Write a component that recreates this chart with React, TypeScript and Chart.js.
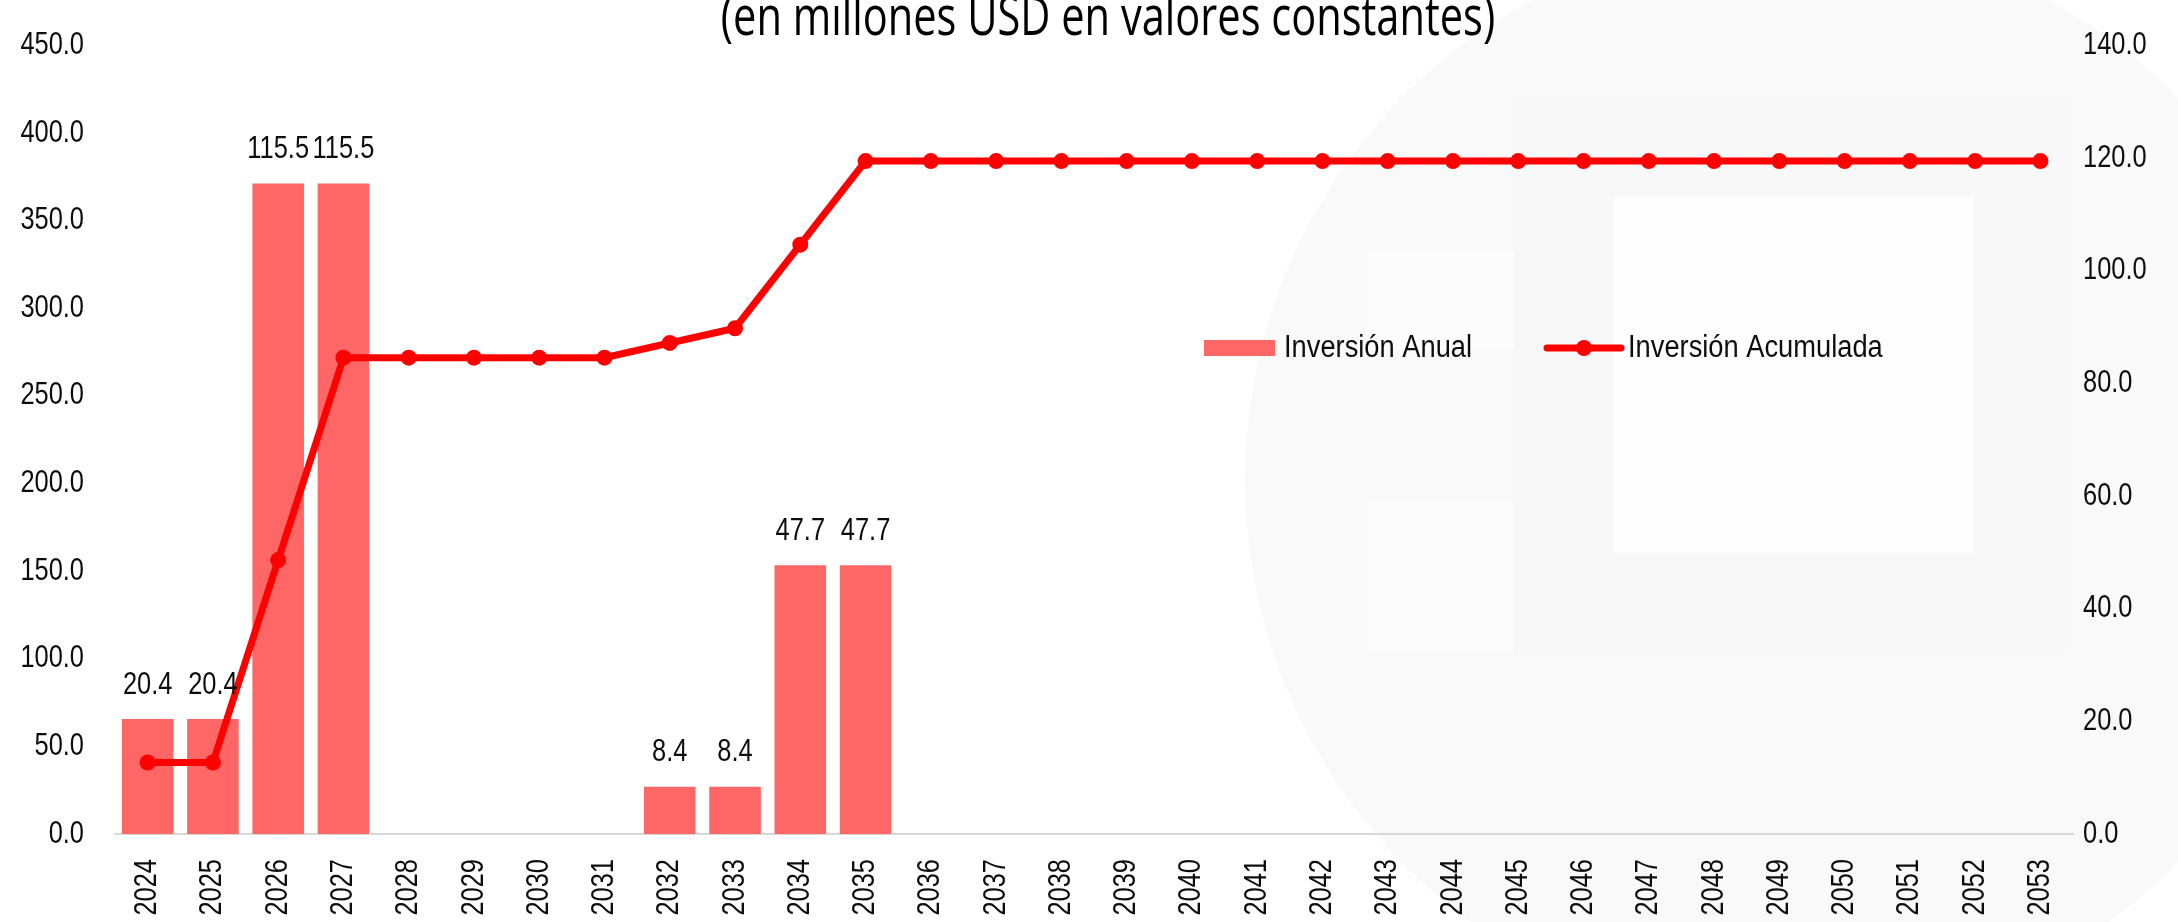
import { useEffect, useRef } from 'react';
import { Chart, registerables } from 'chart.js';

Chart.register(...registerables);

const years = [
  '2024', '2025', '2026', '2027', '2028', '2029', '2030', '2031', '2032', '2033',
  '2034', '2035', '2036', '2037', '2038', '2039', '2040', '2041', '2042', '2043',
  '2044', '2045', '2046', '2047', '2048', '2049', '2050', '2051', '2052', '2053',
];

const annualInvestment = [
  20.4, 20.4, 115.5, 115.5, 0, 0, 0, 0, 8.4, 8.4,
  47.7, 47.7, 0, 0, 0, 0, 0, 0, 0, 0,
  0, 0, 0, 0, 0, 0, 0, 0, 0, 0,
];

const cumulativeInvestment = [
  40.8, 40.8, 156.3, 271.8, 271.8, 271.8, 271.8, 271.8, 280.2, 288.6,
  336.3, 384.0, 384.0, 384.0, 384.0, 384.0, 384.0, 384.0, 384.0, 384.0,
  384.0, 384.0, 384.0, 384.0, 384.0, 384.0, 384.0, 384.0, 384.0, 384.0,
];

const leftAxisTicks = [0, 50, 100, 150, 200, 250, 300, 350, 400, 450];
const rightAxisTicks = [0, 20, 40, 60, 80, 100, 120, 140];

const seriesNames = ['Inversión Anual', 'Inversión Acumulada'];
const titleText = '(en millones USD en valores constantes)';

const FONT = '"Liberation Sans", Arial, sans-serif';
const TEXT_SIZE = 31;
const NARROW = 0.82;
const TEXT_COLOR = '#0D0D0D';
const BAR_COLOR = '#FF6666';
const LINE_COLOR = '#FF0000';

const W = 2178;
const H = 922;

function narrowText(ctx: any, text: string, x: number, y: number, align: string, rotate = 0, squeeze = NARROW) {
  ctx.save();
  ctx.translate(x, y);
  if (rotate) ctx.rotate(rotate);
  ctx.scale(squeeze, 1);
  ctx.textAlign = align;
  ctx.fillText(text, 0, 0);
  ctx.restore();
}

const backgroundPlugin = {
  id: 'watermarkBg',
  beforeDraw(chart: any) {
    const ctx = chart.ctx;
    ctx.save();
    ctx.fillStyle = '#FFFFFF';
    ctx.fillRect(0, 0, W, H);
    ctx.fillStyle = '#F9F9F9';
    ctx.beginPath();
    ctx.arc(1790, 480, 545, 0, Math.PI * 2);
    ctx.fill();
    ctx.fillStyle = '#F8F8F8';
    ctx.fillRect(1511, 94, 560, 560);
    ctx.fillStyle = '#FDFDFD';
    ctx.fillRect(1614, 197, 360, 356);
    ctx.fillStyle = '#FCFCFC';
    ctx.fillRect(1368, 250, 146, 100);
    ctx.fillRect(1368, 503, 146, 150);
    ctx.restore();
  },
};

const overlayPlugin = {
  id: 'overlay',
  afterDatasetsDraw(chart: any) {
    const ctx = chart.ctx;
    const meta = chart.getDatasetMeta(0);
    ctx.save();
    ctx.font = `${TEXT_SIZE}px ${FONT}`;
    ctx.fillStyle = TEXT_COLOR;
    ctx.textBaseline = 'middle';
    meta.data.forEach((bar: any, i: number) => {
      const v = annualInvestment[i];
      if (!v) return;
      narrowText(ctx, v.toFixed(1), bar.x, bar.y - 34, 'center');
    });
    ctx.restore();
  },
  afterDraw(chart: any) {
    const ctx = chart.ctx;
    const xs = chart.scales.x;
    const yl = chart.scales.yLeft;
    const yr = chart.scales.yRight;
    ctx.save();
    ctx.font = `${TEXT_SIZE}px ${FONT}`;
    ctx.fillStyle = TEXT_COLOR;
    ctx.textBaseline = 'middle';
    leftAxisTicks.forEach((v) => {
      narrowText(ctx, v.toFixed(1), 84, yl.getPixelForValue(v), 'right');
    });
    rightAxisTicks.forEach((v) => {
      narrowText(ctx, v.toFixed(1), 2083, yr.getPixelForValue(v), 'left');
    });
    years.forEach((y, i) => {
      narrowText(ctx, y, xs.getPixelForValue(i), 859, 'right', -Math.PI / 2);
    });

    // legend
    const ly = 348;
    ctx.fillStyle = BAR_COLOR;
    ctx.fillRect(1204, ly - 8, 71, 16);
    ctx.fillStyle = TEXT_COLOR;
    narrowText(ctx, seriesNames[0], 1284, ly, 'left', 0, 0.88);
    ctx.strokeStyle = LINE_COLOR;
    ctx.lineWidth = 7;
    ctx.lineCap = 'round';
    ctx.beginPath();
    ctx.moveTo(1547, ly);
    ctx.lineTo(1621, ly);
    ctx.stroke();
    ctx.fillStyle = LINE_COLOR;
    ctx.beginPath();
    ctx.arc(1584, ly, 8, 0, Math.PI * 2);
    ctx.fill();
    ctx.fillStyle = TEXT_COLOR;
    narrowText(ctx, seriesNames[1], 1628, ly, 'left', 0, 0.88);

    // title (cut at the top edge)
    ctx.font = `54px "Open Sans", sans-serif`;
    ctx.fillStyle = '#000000';
    ctx.textBaseline = 'alphabetic';
    narrowText(ctx, titleText, 1108, 35, 'center', 0, 0.77);
    ctx.restore();
  },
};

export default function App() {
  const canvasRef = useRef<HTMLCanvasElement | null>(null);

  useEffect(() => {
    document.body.style.margin = '0';
    const canvas = canvasRef.current;
    if (!canvas) return;
    const hidden = 'rgba(0,0,0,0)';
    const chart = new Chart(canvas, {
      data: {
        labels: years,
        datasets: [
          {
            type: 'bar',
            label: seriesNames[0],
            data: annualInvestment,
            backgroundColor: BAR_COLOR,
            borderWidth: 0,
            yAxisID: 'yRight',
            categoryPercentage: 0.79,
            barPercentage: 1.0,
            order: 2,
          },
          {
            type: 'line',
            label: seriesNames[1],
            data: cumulativeInvestment,
            borderColor: LINE_COLOR,
            backgroundColor: LINE_COLOR,
            borderWidth: 7,
            pointRadius: 8,
            pointBackgroundColor: LINE_COLOR,
            pointBorderWidth: 0,
            tension: 0,
            yAxisID: 'yLeft',
            order: 1,
          },
        ],
      } as any,
      options: {
        responsive: false,
        animation: false,
        devicePixelRatio: 1,
        layout: { padding: { top: 28, left: 0, right: 0, bottom: 0 } },
        plugins: {
          legend: { display: false },
          title: { display: false },
          tooltip: { enabled: false },
        },
        scales: {
          x: {
            grid: { display: false, drawTicks: false },
            border: { display: true, color: '#D9D9D9', width: 2 },
            ticks: {
              minRotation: 90,
              maxRotation: 90,
              autoSkip: false,
              padding: 24,
              color: hidden,
              font: { family: FONT, size: 24 },
            },
            afterFit(scale: any) {
              scale.height = 88;
            },
          },
          yLeft: {
            type: 'linear',
            position: 'left',
            min: 0,
            max: 450,
            grid: { display: false, drawTicks: false },
            border: { display: false },
            afterBuildTicks(scale: any) {
              scale.ticks = leftAxisTicks.map((v) => ({ value: v }));
            },
            ticks: {
              padding: 31,
              color: hidden,
              font: { family: FONT, size: 24 },
              callback: (v: any) => Number(v).toFixed(1),
            },
            afterFit(scale: any) {
              scale.width = 115;
            },
          },
          yRight: {
            type: 'linear',
            position: 'right',
            min: 0,
            max: 140,
            grid: { display: false, drawTicks: false },
            border: { display: false },
            afterBuildTicks(scale: any) {
              scale.ticks = rightAxisTicks.map((v) => ({ value: v }));
            },
            ticks: {
              padding: 10,
              color: hidden,
              font: { family: FONT, size: 24 },
              callback: (v: any) => Number(v).toFixed(1),
            },
            afterFit(scale: any) {
              scale.width = 105;
            },
          },
        },
      },
      plugins: [backgroundPlugin, overlayPlugin],
    });
    return () => chart.destroy();
  }, []);

  return (
    <div style={{ width: W, height: H, position: 'relative' }}>
      <canvas ref={canvasRef} width={W} height={H} style={{ display: 'block', width: W, height: H }} />
    </div>
  );
}
